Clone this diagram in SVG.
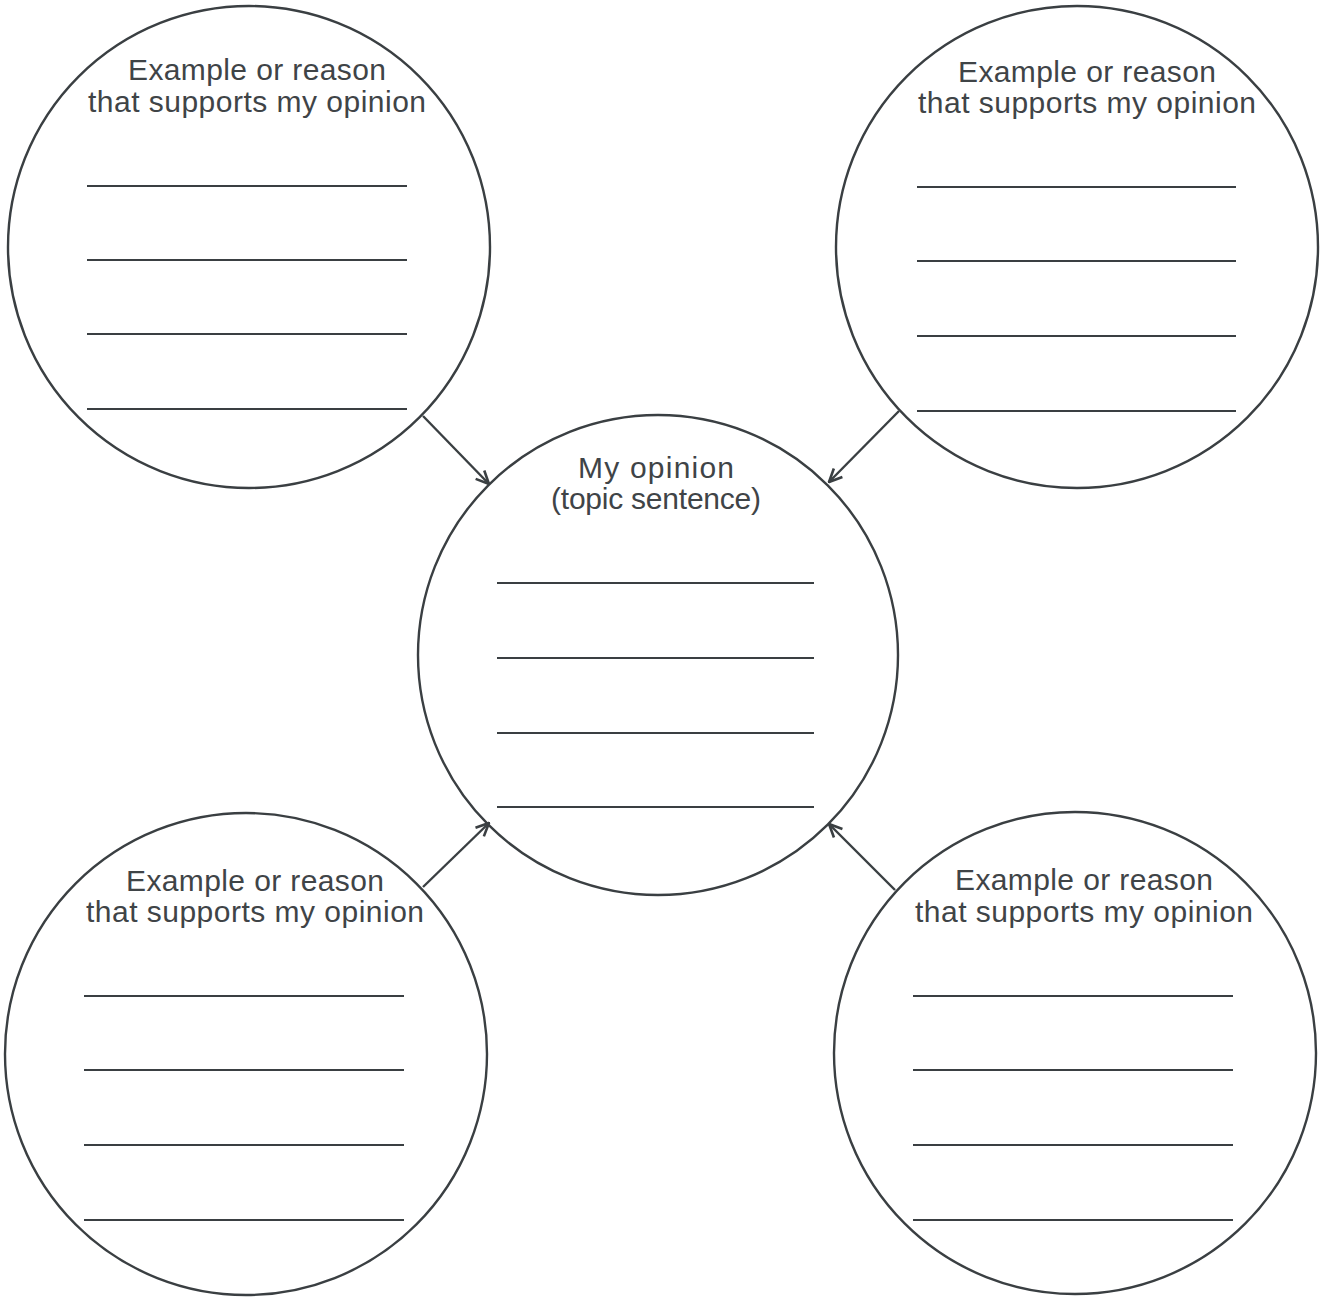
<svg xmlns="http://www.w3.org/2000/svg" width="1328" height="1297" viewBox="0 0 1328 1297">
<style>
.c{fill:none;stroke:#3a3f42;stroke-width:2.4}
.l{stroke:#3a3f42;stroke-width:2}
.t{font-family:"Liberation Sans",Arial,sans-serif;font-size:30px;fill:#3f4447;text-anchor:middle}
.a{stroke:#3a3f42;stroke-width:2.4;fill:none}
</style>
<defs>
<marker id="ah" viewBox="0 0 16 16" refX="15" refY="8" markerWidth="16" markerHeight="16" markerUnits="userSpaceOnUse" orient="auto">
<path d="M2,2 L15,8 L2,14" fill="none" stroke="#3a3f42" stroke-width="2.6"/>
</marker>
</defs>
<rect width="1328" height="1297" fill="#ffffff"/>
<g id="connectors">
<line class="a" x1="423" y1="416" x2="489" y2="484" marker-end="url(#ah)"/>
<line class="a" x1="899" y1="411" x2="829" y2="482" marker-end="url(#ah)"/>
<line class="a" x1="423" y1="887" x2="489" y2="823" marker-end="url(#ah)"/>
<line class="a" x1="895" y1="890" x2="829" y2="824" marker-end="url(#ah)"/>
</g>
<g id="node-top-left">
<circle class="c" cx="249" cy="247" r="241"/>
<text class="t" x="257" y="80" textLength="258">Example or reason</text>
<text class="t" x="257" y="112" textLength="338">that supports my opinion</text>
<line class="l" x1="87" y1="186" x2="407" y2="186"/>
<line class="l" x1="87" y1="260" x2="407" y2="260"/>
<line class="l" x1="87" y1="334" x2="407" y2="334"/>
<line class="l" x1="87" y1="409" x2="407" y2="409"/>
</g>
<g id="node-top-right">
<circle class="c" cx="1077" cy="247" r="241"/>
<text class="t" x="1087" y="82" textLength="258">Example or reason</text>
<text class="t" x="1087" y="113" textLength="338">that supports my opinion</text>
<line class="l" x1="917" y1="187" x2="1236" y2="187"/>
<line class="l" x1="917" y1="261" x2="1236" y2="261"/>
<line class="l" x1="917" y1="336" x2="1236" y2="336"/>
<line class="l" x1="917" y1="411" x2="1236" y2="411"/>
</g>
<g id="node-center">
<circle class="c" cx="658" cy="655" r="240"/>
<text class="t" x="656" y="478" textLength="156">My opinion</text>
<text class="t" x="656" y="509" textLength="210">(topic sentence)</text>
<line class="l" x1="497" y1="583" x2="814" y2="583"/>
<line class="l" x1="497" y1="658" x2="814" y2="658"/>
<line class="l" x1="497" y1="733" x2="814" y2="733"/>
<line class="l" x1="497" y1="807" x2="814" y2="807"/>
</g>
<g id="node-bottom-left">
<circle class="c" cx="246" cy="1054" r="241"/>
<text class="t" x="255" y="891" textLength="258">Example or reason</text>
<text class="t" x="255" y="922" textLength="338">that supports my opinion</text>
<line class="l" x1="84" y1="996" x2="404" y2="996"/>
<line class="l" x1="84" y1="1070" x2="404" y2="1070"/>
<line class="l" x1="84" y1="1145" x2="404" y2="1145"/>
<line class="l" x1="84" y1="1220" x2="404" y2="1220"/>
</g>
<g id="node-bottom-right">
<circle class="c" cx="1075" cy="1053" r="241"/>
<text class="t" x="1084" y="890" textLength="258">Example or reason</text>
<text class="t" x="1084" y="922" textLength="338">that supports my opinion</text>
<line class="l" x1="913" y1="996" x2="1233" y2="996"/>
<line class="l" x1="913" y1="1070" x2="1233" y2="1070"/>
<line class="l" x1="913" y1="1145" x2="1233" y2="1145"/>
<line class="l" x1="913" y1="1220" x2="1233" y2="1220"/>
</g>
</svg>
